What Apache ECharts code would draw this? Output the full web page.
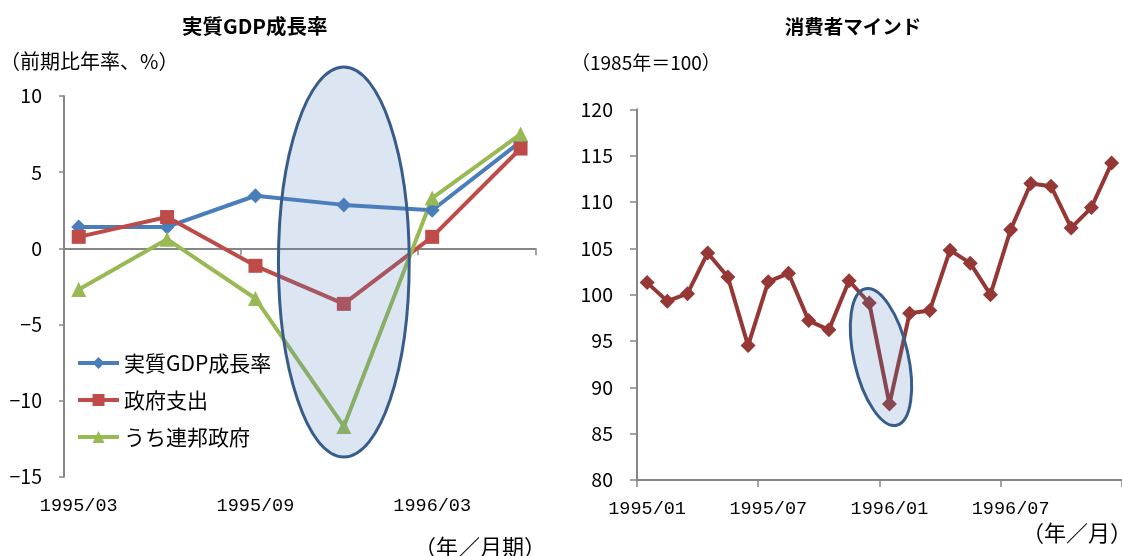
<!DOCTYPE html>
<html>
<head>
<meta charset="utf-8">
<script src="https://cdn.jsdelivr.net/npm/echarts@6/dist/echarts.min.js"></script>
<style>
  html, body { margin: 0; padding: 0; background: #fff; }
  #chart { width: 1122px; height: 556px; }
</style>
</head>
<body>
<div id="chart"></div>
<script>
// ---- Real GDP panel (quarterly, annualised q/q %) ----
const gdpMonths = ['1995/03', '1995/04', '1995/05', '1995/06', '1995/07', '1995/08', '1995/09', '1995/10',
                   '1995/11', '1995/12', '1996/01', '1996/02', '1996/03', '1996/04', '1996/05', '1996/06'];
const quarters = ['1995/03', '1995/06', '1995/09', '1995/12', '1996/03', '1996/06'];
const realGdp = [1.4, 1.4, 3.45, 2.85, 2.5, 7.0];
const govSpending = [0.75, 2.05, -1.15, -3.65, 0.75, 6.55];
const federalGov = [-2.7, 0.6, -3.3, -11.7, 3.3, 7.5];
const gdpSeriesNames = ['実質GDP成長率', '政府支出', 'うち連邦政府'];

// ---- Consumer sentiment panel (monthly, 1985 = 100) ----
const sentimentMonths = ['1995/01', '1995/02', '1995/03', '1995/04', '1995/05', '1995/06', '1995/07', '1995/08',
                         '1995/09', '1995/10', '1995/11', '1995/12', '1996/01', '1996/02', '1996/03', '1996/04',
                         '1996/05', '1996/06', '1996/07', '1996/08', '1996/09', '1996/10', '1996/11', '1996/12'];
const sentiment = [101.3, 99.3, 100.1, 104.5, 101.9, 94.5, 101.4, 102.3, 97.2, 96.2, 101.5, 99.1,
                   88.2, 98.0, 98.3, 104.8, 103.4, 100.0, 107.0, 112.0, 111.7, 107.2, 109.4, 114.2];

// Highlight ovals, given in data units of each panel
const gdpOval = { month: '1995/12', low: -13.7, high: 11.9, halfWidthMonths: 2.22 };
const sentimentOval = { monthIndex: 11.58, center: 93.27, halfHeight: 7.55, halfWidthMonths: 1.34, tilt: 0.225 };

const AXIS_GREY = '#868686';
const CJK = '"Noto Sans CJK JP", "Noto Sans", sans-serif';
const MONO = '"Liberation Mono", "DejaVu Sans Mono", monospace';
const minusSign = v => String(v).replace('-', '\u2212');

const chart = echarts.init(document.getElementById('chart'), null, { renderer: 'canvas' });

const pairs = (keys, vals) => keys.map((k, i) => [k, vals[i]]);

const lineSeries = (name, color, symbol, size, data, xi, yi) => ({
  name, type: 'line', xAxisIndex: xi, yAxisIndex: yi, data,
  symbol, symbolSize: size, showSymbol: true, showAllSymbol: true,
  lineStyle: { color, width: 4 },
  itemStyle: { color },
  z: 3, animation: false
});

chart.setOption({
  animation: false,
  textStyle: { fontFamily: CJK },
  grid: [
    { left: 64, top: 96, width: 471.3, height: 380.7 },
    { left: 637, top: 109.3, width: 484.7, height: 370.7 }
  ],
  legend: {
    data: gdpSeriesNames,
    orient: 'vertical',
    left: 71, top: 347,
    itemWidth: 41, itemHeight: 15, itemGap: 15,
    lineStyle: { width: 4 },
    textStyle: { fontSize: 21, lineHeight: 22, color: '#000', fontFamily: CJK }
  },
  xAxis: [
    { // labels along the bottom of the GDP panel
      gridIndex: 0, type: 'category', data: gdpMonths, boundaryGap: true,
      axisLine: { show: false, onZero: false }, axisTick: { show: false },
      axisLabel: { interval: 5, margin: 20, fontSize: 18.5, color: '#000', fontFamily: MONO },
      splitLine: { show: false }
    },
    { // zero line with ticks
      gridIndex: 0, type: 'category', data: gdpMonths, boundaryGap: true, position: 'bottom',
      axisLine: { show: true, onZero: true, lineStyle: { color: AXIS_GREY, width: 2 } },
      axisTick: { show: true, interval: 5, length: 7, lineStyle: { color: AXIS_GREY, width: 1.5 } },
      axisLabel: { show: false }, splitLine: { show: false }
    },
    {
      gridIndex: 1, type: 'category', data: sentimentMonths, boundaryGap: true,
      axisLine: { show: true, onZero: false, lineStyle: { color: AXIS_GREY, width: 2 } },
      axisTick: { show: true, interval: 5, length: 7, lineStyle: { color: AXIS_GREY, width: 1.5 } },
      axisLabel: { interval: 5, margin: 20, fontSize: 18.5, color: '#000', fontFamily: MONO },
      splitLine: { show: false }
    }
  ],
  yAxis: [
    {
      gridIndex: 0, type: 'value', min: -15, max: 10, interval: 5,
      axisLine: { show: true, lineStyle: { color: AXIS_GREY, width: 2 } },
      axisTick: { show: true, length: 5, lineStyle: { color: AXIS_GREY, width: 1.5 } },
      axisLabel: { margin: 22, fontSize: 19.5, color: '#000', formatter: minusSign },
      splitLine: { show: false }
    },
    {
      gridIndex: 1, type: 'value', min: 80, max: 120, interval: 5,
      axisLine: { show: true, lineStyle: { color: AXIS_GREY, width: 2 } },
      axisTick: { show: true, length: 7, lineStyle: { color: AXIS_GREY, width: 1.5 } },
      axisLabel: { margin: 24, fontSize: 19.5, color: '#000' },
      splitLine: { show: false }
    }
  ],
  series: [
    lineSeries(gdpSeriesNames[0], '#4A7EBB', 'diamond', 15, pairs(quarters, realGdp), 0, 0),
    lineSeries(gdpSeriesNames[1], '#BE4B48', 'rect', 14, pairs(quarters, govSpending), 0, 0),
    lineSeries(gdpSeriesNames[2], '#98B954', 'triangle', 15, pairs(quarters, federalGov), 0, 0),
    lineSeries('消費者マインド', '#953735', 'diamond', 15, pairs(sentimentMonths, sentiment), 2, 1)
  ]
});

// Place the highlight ovals and the panel texts once the axes are laid out
const toPx = (grid, x, y) => chart.convertToPixel({ gridIndex: grid }, [x, y]);

const gC = toPx(0, gdpOval.month, (gdpOval.low + gdpOval.high) / 2);
const gTop = toPx(0, gdpOval.month, gdpOval.high);
const gBand = toPx(0, 1, 0)[0] - toPx(0, 0, 0)[0];

const i0 = Math.floor(sentimentOval.monthIndex);
const sA = toPx(1, i0, sentimentOval.center);
const sB = toPx(1, i0 + 1, sentimentOval.center);
const sBand = sB[0] - sA[0];
const sCx = sA[0] + (sentimentOval.monthIndex - i0) * sBand;
const sTop = toPx(1, i0, sentimentOval.center + sentimentOval.halfHeight);

const ovalStyle = { fill: 'rgba(79,129,189,0.2)', stroke: '#385D8A', lineWidth: 3 };
const text = (str, x, y, font, align) => ({
  type: 'text', x, y, z: 120,
  style: { text: str, font, fill: '#000', align, verticalAlign: 'middle', textAlign: align, textVerticalAlign: 'middle' }
});

chart.setOption({
  graphic: { elements: [
    {
      type: 'ellipse', z: 100, x: gC[0], y: gC[1],
      shape: { cx: 0, cy: 0, rx: gdpOval.halfWidthMonths * gBand, ry: gC[1] - gTop[1] },
      style: ovalStyle
    },
    {
      type: 'ellipse', z: 100, x: sCx, y: sA[1], rotation: sentimentOval.tilt,
      shape: { cx: 0, cy: 0, rx: sentimentOval.halfWidthMonths * sBand, ry: sA[1] - sTop[1] },
      style: ovalStyle
    },
    text('実質GDP成長率', 254.7, 26.7, 'bold 20.5px ' + CJK, 'center'),
    text('消費者マインド', 853, 27, 'bold 19.5px ' + CJK, 'center'),
    text('（前期比年率、%）', 0, 61.7, '20px ' + CJK, 'left'),
    text('（1985年＝100）', 571, 63, '19px ' + CJK, 'left'),
    text('（年／月期）', 414, 546.5, '22px ' + CJK, 'left'),
    text('（年／月）', 1022, 533, '22px ' + CJK, 'left')
  ] }
});
</script>
</body>
</html>
